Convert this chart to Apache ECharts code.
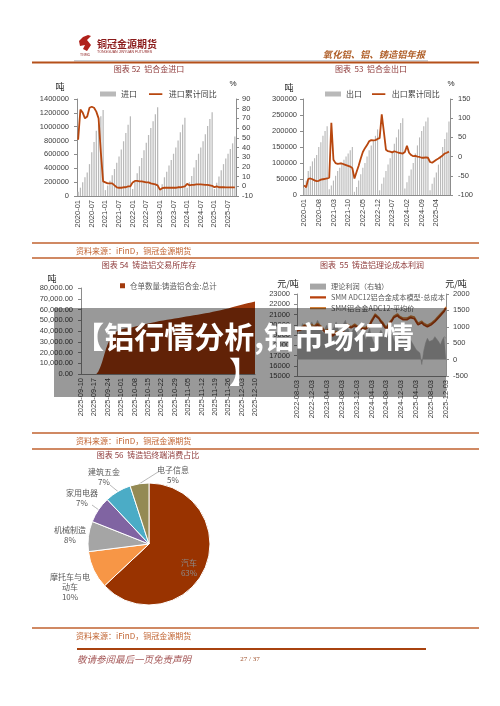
<!DOCTYPE html>
<html><head><meta charset="utf-8">
<script src="https://cdn.jsdelivr.net/npm/echarts@6/dist/echarts.min.js"></script>
<style>html,body{margin:0;padding:0;background:#fff}#c{width:500px;height:706px}</style>
</head><body><div id="c"></div><script>
// ---------- categories ----------
const months = ['2020-01','2020-02','2020-03','2020-04','2020-05','2020-06','2020-07','2020-08','2020-09','2020-10','2020-11','2020-12',
'2021-01','2021-02','2021-03','2021-04','2021-05','2021-06','2021-07','2021-08','2021-09','2021-10','2021-11','2021-12',
'2022-01','2022-02','2022-03','2022-04','2022-05','2022-06','2022-07','2022-08','2022-09','2022-10','2022-11','2022-12',
'2023-01','2023-02','2023-03','2023-04','2023-05','2023-06','2023-07','2023-08','2023-09','2023-10','2023-11','2023-12',
'2024-01','2024-02','2024-03','2024-04','2024-05','2024-06','2024-07','2024-08','2024-09','2024-10','2024-11','2024-12',
'2025-01','2025-02','2025-03','2025-04','2025-05','2025-06','2025-07','2025-08','2025-09','2025-10'];

// 图表52 铝合金进口 (吨, 累计) / 累计同比 %
const importVol = [60000,120000,200000,270000,340000,460000,630000,780000,940000,1040000,1150000,1240000,
85000,150000,220000,300000,390000,480000,570000,670000,790000,910000,1030000,1150000,
100000,210000,330000,430000,550000,660000,770000,880000,980000,1080000,1180000,1280000,
90000,170000,270000,350000,440000,520000,610000,700000,800000,920000,1030000,1130000,
120000,200000,290000,410000,520000,610000,700000,790000,890000,1010000,1110000,1210000,
100000,190000,280000,370000,460000,540000,610000,680000,760000,860000];
const importYoy = [48,79,76,70,72,81,82,81,77,70,35,5,
4,3,3,3,1,-1,-1.5,-1.5,-1,-1,0,0,
4,5.5,5.5,5,5,4.5,4,4,3,2.5,2,1,
-3.5,-2,-1.5,-1.5,-1.5,-1.5,-1.5,-1.5,-1,-1,-0.5,0,
2.5,1,1.5,1.5,2,2,2,1.8,1.5,1.5,1,0.5,
-1,0,-1,-1,-1,-1.2,-1.2,-1.2,-1.2,-1.2];

// 图表53 铝合金出口
const exportVol = [22000,45000,75000,90000,105000,115000,125000,150000,165000,185000,200000,215000,
18000,30000,45000,60000,75000,85000,100000,110000,120000,130000,140000,150000,
10000,25000,45000,65000,85000,100000,120000,140000,155000,170000,185000,205000,
15000,35000,55000,75000,95000,115000,135000,160000,180000,205000,225000,240000,
20000,40000,60000,80000,100000,130000,155000,180000,200000,215000,230000,242000,
15000,35000,55000,70000,95000,120000,150000,175000,195000,230000];
const exportYoy = [-75,-80,-58,-57,-59,-62,-64,-63,-60,-59,-58,-57,
-55,88,-8,-17,-19,-18,-18,-20,-22,-24,-26,-30,
-57,-40,-24,-5,12,22,30,40,43,42,43,46,
48,110,65,18,14,13,11,14,12,10,9,8,
12,28,10,4,1,2,0,-1,-3,-3,-2,-3,
-14,-16,-12,-8,-5,-1,3,8,10,13];

// 图表54 铸造铝交易所库存
const invDates = ['2025-09-10','2025-09-11','2025-09-12','2025-09-13','2025-09-14','2025-09-15','2025-09-16','2025-09-17','2025-09-18','2025-09-19','2025-09-20','2025-09-21','2025-09-22','2025-09-23','2025-09-24','2025-09-25','2025-09-26','2025-09-27','2025-09-28','2025-09-29','2025-09-30',
'2025-10-01','2025-10-02','2025-10-03','2025-10-04','2025-10-05','2025-10-06','2025-10-07','2025-10-08','2025-10-09','2025-10-10','2025-10-11','2025-10-12','2025-10-13','2025-10-14','2025-10-15','2025-10-16','2025-10-17','2025-10-18','2025-10-19','2025-10-20','2025-10-21','2025-10-22','2025-10-23','2025-10-24','2025-10-25','2025-10-26','2025-10-27','2025-10-28','2025-10-29','2025-10-30','2025-10-31',
'2025-11-01','2025-11-02','2025-11-03','2025-11-04','2025-11-05','2025-11-06','2025-11-07','2025-11-08','2025-11-09','2025-11-10','2025-11-11','2025-11-12','2025-11-13','2025-11-14','2025-11-15','2025-11-16','2025-11-17','2025-11-18','2025-11-19','2025-11-20','2025-11-21','2025-11-22','2025-11-23','2025-11-24','2025-11-25','2025-11-26','2025-11-27','2025-11-28','2025-11-29','2025-11-30',
'2025-12-01','2025-12-02','2025-12-03','2025-12-04','2025-12-05','2025-12-06','2025-12-07','2025-12-08','2025-12-09','2025-12-10'];
const invValues = [0,0,0,0,0,0,0,0,0,2000,6000,11000,17000,23000,28000,32000,35000,37000,38500,40000,41000,
41500,42000,42300,42600,42900,43200,43500,44000,44500,45000,45400,45800,46200,46600,47000,47300,47600,48000,48400,48800,49200,49500,49800,50100,50400,50700,51000,51300,51600,51900,52200,
52500,52800,53100,53400,53700,54000,54300,54600,54900,55200,55500,55800,56100,56400,56700,57000,57400,57800,58200,58600,59000,59400,59800,60200,60600,61000,61500,62000,62500,63000,
63500,64000,64500,65000,65400,65800,66200,66600,67000,67500];

// 图表55 铸造铝理论成本利润
const costDates = ['2022-08-03','2022-08-18','2022-09-03','2022-09-18','2022-10-03','2022-10-18','2022-11-03','2022-11-18','2022-12-03','2022-12-18',
'2023-01-03','2023-01-18','2023-02-03','2023-02-18','2023-03-03','2023-03-18','2023-04-03','2023-04-18','2023-05-03','2023-05-18','2023-06-03','2023-06-18','2023-07-03','2023-07-18','2023-08-03','2023-08-18','2023-09-03','2023-09-18','2023-10-03','2023-10-18','2023-11-03','2023-11-18','2023-12-03','2023-12-18',
'2024-01-03','2024-01-18','2024-02-03','2024-02-18','2024-03-03','2024-03-18','2024-04-03','2024-04-18','2024-05-03','2024-05-18','2024-06-03','2024-06-18','2024-07-03','2024-07-18','2024-08-03','2024-08-18','2024-09-03','2024-09-18','2024-10-03','2024-10-18','2024-11-03','2024-11-18','2024-12-03','2024-12-18',
'2025-01-03','2025-01-18','2025-02-03','2025-02-18','2025-03-03','2025-03-18','2025-04-03','2025-04-18','2025-05-03','2025-05-18','2025-06-03','2025-06-18','2025-07-03','2025-07-18','2025-08-03','2025-08-18','2025-09-03','2025-09-18','2025-10-03','2025-10-18','2025-11-03','2025-11-18','2025-12-03'];
const profit = [650,800,950,1100,1000,850,900,1050,1150,950,
1000,1200,1100,900,800,950,1050,850,700,900,1000,1150,950,800,900,1100,1200,1000,850,750,900,1000,800,650,
700,850,750,600,800,950,700,550,450,600,750,900,800,650,700,850,900,750,600,500,650,800,700,600,
550,650,700,600,500,400,300,250,200,-150,250,500,650,550,500,600,700,650,550,450,600,700,650];
const costTotal = [19400,19300,19500,19700,19900,19800,19600,19800,19900,19700,
19800,20000,19900,19700,19500,19300,19400,19500,19200,18900,19000,19200,19300,19200,19300,19400,19700,19900,19800,19700,19700,19900,19800,19700,
19700,19600,19500,19600,19700,19900,20300,20600,20900,20800,20600,20300,20100,19800,19600,19900,20000,20400,20700,20800,20900,20700,20600,20500,
20400,20500,20600,20700,20800,20600,20300,20000,20100,20200,20000,19900,19800,19900,20000,20100,20300,20500,20700,20900,21100,21300,21650];
const avgPrice = [19500,19450,19650,19800,20000,19950,19750,19900,20050,19850,
19950,20150,20000,19850,19650,19400,19550,19600,19350,19050,19100,19350,19450,19300,19450,19550,19850,20050,19950,19800,19850,20050,19900,19800,
19850,19700,19650,19750,19850,20050,20450,20750,21050,20950,20700,20450,20250,19950,19750,20050,20150,20550,20850,20950,21050,20850,20750,20650,
20550,20650,20750,20850,20950,20750,20450,20150,20250,20350,20150,20050,19950,20050,20150,20250,20450,20650,20850,21050,21250,21450,21750];

// 图表56 铸造铝终端消费占比
const pieNames = ['汽车','摩托车与电动车','机械制造','家用电器','建筑五金','电子信息'];
const pieValues = [63,10,8,7,7,5];

// ---------- styles ----------
const FONT = "'Liberation Sans','Noto Sans CJK SC',sans-serif";
const CJK = "'Noto Sans CJK SC',sans-serif";
const LBL = '#404040';
const AXL = '#8c8c8c';
const BROWN = '#b8470f';
const SRC = '#c0622f';
const TITLE = '#8e3a3a';
const LINEICON = 'path://M0,0h0.05v0.05h-0.05z M0,2h16v2.2h-16z M0,5.95h0.05v0.05h-0.05z';
const pieColors = ['#993300','#f79646','#a5a5a5','#8064a2','#4bacc6','#948a54'];
const pieCenter = [149,544], pieR = 61;
const pieLabelPos = [[189,568],[70,587],[70,535],[82,498],[104,477],[173,475]];
const pieLineEnd = [null,null,null,[92,505],[110,485],[158,472]];

function pieAnchor(i) {
  const total = pieValues.reduce((a,b)=>a+b,0);
  let before = 0; for (let k=0;k<i;k++) before += pieValues[k];
  const ang = (before + pieValues[i]/2) / total * 2 * Math.PI; // clockwise from top
  return [pieCenter[0] + pieR*Math.sin(ang), pieCenter[1] - pieR*Math.cos(ang)];
}

function catAxis(grid, data, interval, gap) {
  return {type:'category', gridIndex:grid, data:data, boundaryGap:gap,
    axisLine:{onZero:false, lineStyle:{color:AXL, width:1}}, axisTick:{show:false},
    axisLabel:{rotate:90, interval:interval, fontSize:7.5, color:LBL, margin:4, fontFamily:FONT},
    splitLine:{show:false}};
}
function valAxis(grid, pos, min, max, step, fmt, margin) {
  return {type:'value', gridIndex:grid, position:pos, min:min, max:max, interval:step,
    axisLine:{show:true, lineStyle:{color:AXL, width:1}}, axisTick:{show:true, length:3, lineStyle:{color:AXL}},
    axisLabel:{fontSize:7.5, color:LBL, margin:margin||5, fontFamily:FONT, formatter:fmt || (v => String(v))},
    splitLine:{show:false}};
}
const fmt2 = v => v.toLocaleString('en-US',{minimumFractionDigits:2, maximumFractionDigits:2});

function txt(x, y, s, size, color, opts) {
  return {type:'text', x:x, y:y, z:50, style:Object.assign({text:s, fill:color, fontSize:size, fontFamily:CJK,
    align:'center', verticalAlign:'middle', textAlign:'center', textVerticalAlign:'middle'}, opts||{})};
}
function ln(x1,y1,x2,y2,color,w) {
  return {type:'line', z:50, shape:{x1:x1,y1:y1,x2:x2,y2:y2}, style:{stroke:color, lineWidth:w}};
}
function ltxt(x, y, s, size, color, extra) {
  return txt(x, y, s, size, color, Object.assign({align:'left', textAlign:'left'}, extra||{}));
}

const chart = echarts.init(document.getElementById('c'), null, {width:500, height:706});
const option = {
  animation:false,
  textStyle:{fontFamily:FONT},
  grid:[
    {left:77, top:99, width:159, height:97, outerBoundsMode:'none'},
    {left:303, top:99, width:147, height:96, outerBoundsMode:'none'},
    {left:81, top:288, width:174, height:86, outerBoundsMode:'none'},
    {left:297, top:294, width:149, height:82, outerBoundsMode:'none'}
  ],
  xAxis:[
    catAxis(0, months, 5, true),
    catAxis(1, months, 6, true),
    catAxis(2, invDates, 6, false),
    catAxis(3, costDates, 7, false)
  ],
  yAxis:[
    valAxis(0,'left',0,1400000,200000,null,8),
    valAxis(0,'right',-10,90,10,null,6),
    valAxis(1,'left',0,300000,50000,null,6),
    valAxis(1,'right',-100,150,50,null,8),
    valAxis(2,'left',0,80000,10000,fmt2,8),
    valAxis(3,'left',15000,23000,1000,null,7),
    valAxis(3,'right',-500,2000,500,null,7)
  ],
  legend:[
    {left:100, top:90, itemWidth:16, itemHeight:5, itemGap:12, padding:0,
      textStyle:{fontSize:8, color:LBL, fontFamily:CJK},
      data:[{name:'进口', icon:'rect'}, {name:'进口累计同比', icon:LINEICON}]},
    {left:325, top:90, itemWidth:16, itemHeight:5, itemGap:10, padding:0,
      textStyle:{fontSize:8, color:LBL, fontFamily:CJK},
      data:[{name:'出口', icon:'rect'}, {name:'出口累计同比', icon:LINEICON}]},
    {left:120, top:282, itemWidth:5, itemHeight:5, padding:0,
      textStyle:{fontSize:7.5, color:'#595959', fontFamily:CJK},
      data:[{name:'仓单数量:铸造铝合金:总计', icon:'rect'}]},
    {left:310, top:283, orient:'vertical', itemWidth:16, itemHeight:6, itemGap:3.5, padding:0,
      textStyle:{fontSize:7.2, color:'#595959', fontFamily:CJK},
      data:[{name:'理论利润（右轴）', icon:'rect'}, {name:'SMM ADC12铝合金成本模型-总成本', icon:LINEICON}, {name:'SMM铝合金ADC12-平均价', icon:LINEICON}]}
  ],
  series:[
    {name:'进口', type:'bar', xAxisIndex:0, yAxisIndex:0, data:importVol, barCategoryGap:'45%',
      itemStyle:{color:'#b9b9b9'}},
    {name:'进口累计同比', type:'line', xAxisIndex:0, yAxisIndex:1, data:importYoy, symbol:'none',
      lineStyle:{color:BROWN, width:1.8}, itemStyle:{color:BROWN}, z:5},
    {name:'出口', type:'bar', xAxisIndex:1, yAxisIndex:2, data:exportVol, barCategoryGap:'45%',
      itemStyle:{color:'#b9b9b9'}},
    {name:'出口累计同比', type:'line', xAxisIndex:1, yAxisIndex:3, data:exportYoy, symbol:'none',
      lineStyle:{color:BROWN, width:1.8}, itemStyle:{color:BROWN}, z:5},
    {name:'仓单数量:铸造铝合金:总计', type:'line', xAxisIndex:2, yAxisIndex:4, data:invValues, symbol:'none',
      lineStyle:{width:0}, itemStyle:{color:'#a23a0c'}, areaStyle:{color:'#a23a0c', opacity:1}},
    {name:'理论利润（右轴）', type:'line', xAxisIndex:3, yAxisIndex:6, data:profit, symbol:'none', z:1,
      lineStyle:{width:0.5, color:'#b3b3b3'}, itemStyle:{color:'#a6a6a6'}, areaStyle:{color:'#b3b3b3', opacity:1}},
    {name:'SMM ADC12铝合金成本模型-总成本', type:'line', xAxisIndex:3, yAxisIndex:5, data:costTotal, symbol:'none',
      lineStyle:{color:'#b8410c', width:1.8}, itemStyle:{color:'#b8410c'}, z:6},
    {name:'SMM铝合金ADC12-平均价', type:'line', xAxisIndex:3, yAxisIndex:5, data:avgPrice, symbol:'none',
      lineStyle:{color:'#d4823a', width:1.5}, itemStyle:{color:'#d4823a'}, z:5},
    {name:'终端消费占比', type:'pie', center:pieCenter, radius:pieR, startAngle:90, clockwise:true,
      itemStyle:{borderColor:'#fff', borderWidth:1},
      label:{show:true, position:'outside', fontSize:8, lineHeight:10, color:'#595959', fontFamily:CJK,
        formatter: p => (p.name === '摩托车与电动车' ? '摩托车与电\n动车' : p.name) + '\n' + p.value + '%'},
      labelLine:{show:true, length:6, length2:4, lineStyle:{color:'#a6a6a6', width:0.8}},
      labelLayout: p => {
        const i = p.dataIndex;
        const o = {x:pieLabelPos[i][0], y:pieLabelPos[i][1], align:'center', verticalAlign:'middle'};
        if (pieLineEnd[i]) {
          const a = pieAnchor(i), e = pieLineEnd[i];
          o.labelLinePoints = [a, [(a[0]+e[0])/2, (a[1]+e[1])/2], e];
        }
        return o;
      },
      data: pieNames.map((n,i) => ({name:n, value:pieValues[i], itemStyle:{color:pieColors[i]},
        label: i === 0 ? {position:'inside', color:'#8c8c8c'} : {},
        labelLine: (i <= 2) ? {show:false} : {show:true}}))
    }
  ],
  graphic:[
    // header
    {type:'polygon', z:50, shape:{points:[[79,41],[83,37],[88,35],[91,36],[87,40],[91,45],[87,51],[83,49],[85,45],[80,46]]}, style:{fill:'#b0201a'}},
    txt(85,54.5,'TNMG',3.5,'#8b1a1a'),
    ltxt(97,44,'铜冠金源期货',10,'#8b1a1a',{fontWeight:'bold'}),
    ltxt(97,52,'TONGGUAN JINYUAN FUTURES',3.6,'#8b1a1a',{fontFamily:FONT}),
    txt(374,54,'氧化铝、铝、铸造铝年报',9.3,'#b0602a',{fontWeight:'bold', fontStyle:'italic'}),
    ln(74,60.8,428,60.8,'#c8ccd2',1.5),
    ln(32,62.5,479,62.5,'#b5501a',2),
    // titles
    txt(149,68.5,'图表 52  铝合金进口',8,TITLE),
    txt(371,68.5,'图表  53  铝合金出口',8,TITLE),
    txt(149,264.5,'图表 54  铸造铝交易所库存',8,TITLE),
    txt(372,264.5,'图表  55  铸造铝理论成本利润',8,TITLE),
    txt(148,455,'图表 56  铸造铝终端消费占比',8,TITLE),
    // axis names
    txt(60,87,'吨',9,'#262626'),
    txt(233,84,'%',8,'#262626',{fontFamily:FONT}),
    txt(289,88,'吨',9,'#262626'),
    txt(451,84,'%',8,'#262626',{fontFamily:FONT}),
    txt(52,279,'吨',9,'#262626'),
    txt(288,284,'元/吨',9,'#262626'),
    txt(456,284,'元/吨',9,'#262626'),
    // source blocks
    ln(32,243,479,243,SRC,1.6),
    ltxt(76,251,'资料来源：iFinD，铜冠金源期货',8,SRC),
    ln(32,258,479,258,SRC,1.6),
    ln(32,433,479,433,SRC,1.6),
    ltxt(76,441,'资料来源：iFinD，铜冠金源期货',8,SRC),
    ln(32,449,479,449,SRC,1.6),
    ln(32,628,479,628,SRC,1.6),
    ltxt(76,636,'资料来源：iFinD，铜冠金源期货',8,SRC),
    // footer
    ln(77,649,426,649,'#a8420f',2),
    ltxt(77,659,'敬请参阅最后一页免责声明',9.5,'#a65a5a',{fontStyle:'italic'}),
    txt(250,659,'27 / 37',7,'#a0522d',{fontFamily:"'Liberation Serif',serif"}),
    // overlay banner
    {type:'rect', z:100, shape:{x:54, y:308, width:392, height:89}, style:{fill:'rgba(0,0,0,0.4)'}},
    {type:'text', z:101, x:244, y:354, style:{text:'【铝行情分析,铝市场行情\n】', fill:'#ffffff', fontSize:30, fontWeight:'bold',
      lineHeight:35, fontFamily:CJK, align:'center', verticalAlign:'middle', textAlign:'center', textVerticalAlign:'middle'}}
  ]
};
chart.setOption(option);
</script></body></html>
